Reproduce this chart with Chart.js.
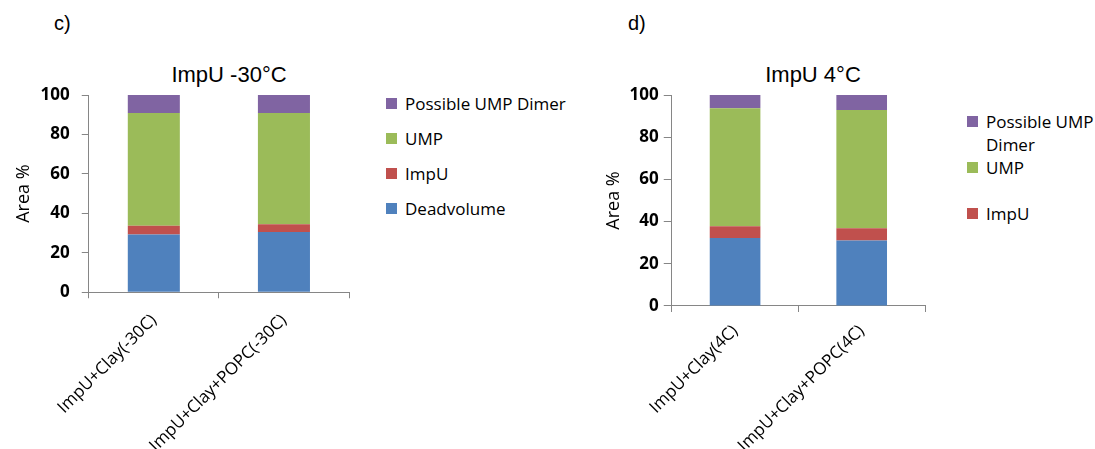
<!DOCTYPE html>
<html>
<head>
<meta charset="utf-8">
<script src="https://cdn.jsdelivr.net/npm/chart.js@4"></script>
<style>
  html, body { margin: 0; padding: 0; background: #fff; }
  body { width: 1095px; height: 449px; position: relative; overflow: hidden; font-family: "Open Sans", sans-serif; color: #000; }
  .panel-tag { position: absolute; top: 12px; font: 20px "Liberation Sans", Arial, sans-serif; }
  .panel-title { position: absolute; top: 62px; font: 22px "Liberation Sans", Arial, sans-serif; white-space: nowrap; transform: translateX(-50%); }
  .wrap { position: absolute; top: 0; height: 449px; }
  .legend { position: absolute; font-size: 17px; }
  .legend .row { display: flex; align-items: flex-start; }
  .legend .box { width: 11px; height: 11px; flex: none; margin-right: 8px; }
  #legC .row { height: 35px; line-height: 35px; }
  #legC .box { margin-top: 12px; }
  #legD .row { height: 46px; line-height: 23px; }
  #legD .box { margin-top: 6px; }
  #legD .txt { width: 112px; }
</style>
</head>
<body>
<div class="panel-tag" style="left:54px">c)</div>
<div class="panel-tag" style="left:628px">d)</div>
<div class="panel-title" style="left:229px">ImpU -30°C</div>
<div class="panel-title" style="left:813px">ImpU 4°C</div>

<div class="wrap" style="left:0;width:380px"><canvas id="chartC" width="380" height="449"></canvas></div>
<div class="wrap" style="left:590px;width:360px"><canvas id="chartD" width="360" height="449"></canvas></div>

<div class="legend" id="legC" style="left:386px;top:86px"></div>
<div class="legend" id="legD" style="left:967px;top:110px"></div>

<script>
// Series, bottom to top of each stacked column
const seriesNames  = ['Deadvolume', 'ImpU', 'UMP', 'Possible UMP Dimer'];
const seriesColors = ['#4F81BD', '#C0504D', '#9BBB59', '#8064A2'];

// Panel c: incubation at -30 °C (area %)
const categoriesC = ['ImpU+Clay(-30C)', 'ImpU+Clay+POPC(-30C)'];
const deadvolumeC = [29.3, 30.6];
const impuC       = [4.4, 3.9];
const umpC        = [57.2, 56.4];
const dimerC      = [9.1, 9.1];

// Panel d: incubation at 4 °C (area %)
const categoriesD = ['ImpU+Clay(4C)', 'ImpU+Clay+POPC(4C)'];
const deadvolumeD = [32.2, 31.0];
const impuD       = [5.6, 5.8];
const umpD        = [55.9, 56.1];
const dimerD      = [6.3, 7.1];

// Value-axis tick labels
const yTicks = [0, 20, 40, 60, 80, 100];

// Legend entries shown beside each panel (top to bottom)
const legendEntriesC = ['Possible UMP Dimer', 'UMP', 'ImpU', 'Deadvolume'];
const legendEntriesD = ['Possible UMP Dimer', 'UMP', 'ImpU'];

const AXIS_GREY = '#868686';

function makeDatasets(series) {
  return series.map((values, i) => ({
    label: seriesNames[i],
    data: values,
    backgroundColor: seriesColors[i],
    borderWidth: 0,
    categoryPercentage: 1,
    barPercentage: 0.4
  }));
}

function makeChart(id, categories, series, opt) {
  return new Chart(document.getElementById(id), {
    type: 'bar',
    data: { labels: categories, datasets: makeDatasets(series) },
    options: {
      responsive: false,
      animation: false,
      events: [],
      layout: { padding: opt.padding },
      plugins: { legend: { display: false }, title: { display: false }, tooltip: { enabled: false } },
      scales: {
        x: {
          stacked: true,
          grid: { display: true, offset: true, drawOnChartArea: false, drawTicks: true, tickLength: 6, color: AXIS_GREY, tickColor: AXIS_GREY },
          border: { display: true, color: AXIS_GREY, width: 1 },
          ticks: { minRotation: 45, maxRotation: 45, padding: opt.xPad, color: '#000', font: { family: "'Open Sans'", size: 17 } }
        },
        y: {
          stacked: true,
          min: 0, max: 100,
          afterBuildTicks: s => { s.ticks = yTicks.map(v => ({ value: v })); },
          grid: { display: true, drawOnChartArea: false, drawTicks: true, tickLength: opt.yTick, color: AXIS_GREY, tickColor: AXIS_GREY },
          border: { display: true, color: AXIS_GREY, width: 1 },
          ticks: { padding: opt.yPad, color: '#000', font: { family: "'Open Sans'", size: 17, weight: 'bold' } },
          title: { display: true, text: 'Area %', color: '#000', padding: opt.titlePad, font: { family: "'Open Sans'", size: 18 } }
        }
      }
    }
  });
}

makeChart('chartC', categoriesC, [deadvolumeC, impuC, umpC, dimerC],
  { padding: { left: 10, top: 95, right: 31, bottom: -19 }, xPad: 12, yPad: 12, yTick: 7, titlePad: { top: 3, bottom: -6 } });
makeChart('chartD', categoriesD, [deadvolumeD, impuD, umpD, dimerD],
  { padding: { left: 13, top: 95, right: 25, bottom: -16 }, xPad: 9, yPad: 5, yTick: 8, titlePad: { top: 0, bottom: 0 } });

function buildLegend(elId, entries) {
  const el = document.getElementById(elId);
  entries.forEach(name => {
    const i = seriesNames.indexOf(name);
    const row = document.createElement('div');
    row.className = 'row';
    const box = document.createElement('div');
    box.className = 'box';
    box.style.background = seriesColors[i];
    const txt = document.createElement('div');
    txt.className = 'txt';
    txt.textContent = name;
    row.appendChild(box);
    row.appendChild(txt);
    el.appendChild(row);
  });
}
buildLegend('legC', legendEntriesC);
buildLegend('legD', legendEntriesD);
</script>
</body>
</html>
